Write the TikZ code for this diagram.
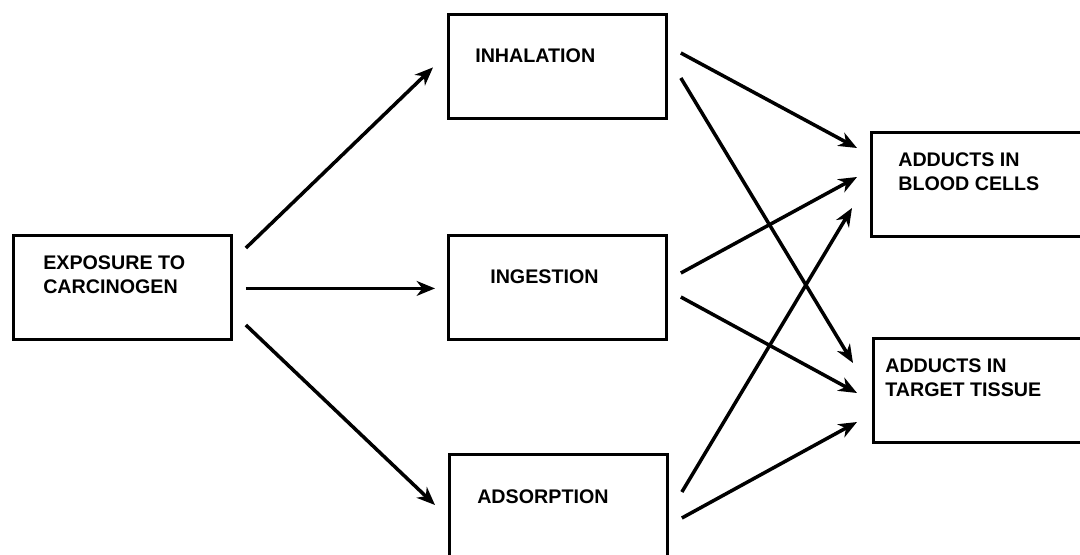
\documentclass[tikz,border=0pt]{standalone}
\usepackage{fontspec}
\setmainfont{Liberation Sans}
\usetikzlibrary{arrows.meta}

\tikzset{
	box/.style={draw, line width=2pt, anchor=north west, minimum width=5.45cm, minimum height=2.6cm, inner sep=0pt},
	lbl/.style={anchor=north west, inner sep=0pt, align=left, font=\fontsize{14}{17.5}\selectfont\bfseries},
	arr/.style={line width=2.5pt, -{Stealth[length=13pt, width=10.5pt, inset=4pt]}}
}

\begin{document}
\begin{tikzpicture}[x=0.025cm, y=-0.025cm]
	\path[use as bounding box, clip] (0,0) rectangle (1080,554);
	\node[box] (expo) at (12,234) {};
	\node[box] (inh) at (447,13) {};
	\node[box] (ing) at (447,234) {};
	\node[box, minimum height=2.9cm] (ads) at (448,453) {};
	\node[box, minimum width=5.6cm] (blood) at (870,131) {};
	\node[box, minimum width=5.6cm] (target) at (872,337) {};
	\node[lbl] (expo-t) at (43,255) {EXPOSURE TO\\CARCINOGEN};
	\node[lbl] (inh-t) at (475,48) {INHALATION};
	\node[lbl] (ing-t) at (490,269) {INGESTION};
	\node[lbl] (ads-t) at (477,489) {ADSORPTION};
	\node[lbl] (blood-t) at (898,152) {ADDUCTS IN\\BLOOD CELLS};
	\node[lbl] (target-t) at (885,358) {ADDUCTS IN\\TARGET TISSUE};
	\draw[arr] ([shift={(13,14)}]expo.north east) -- ([shift={(-14,1)}]inh.west);
	\draw[arr] ([shift={(13,1)}]expo.east) -- ([shift={(-12,1)}]ing.west);
	\draw[arr] ([shift={(13,91)}]expo.north east) -- ([shift={(-13,52)}]ads.north west);
	\draw[arr] ([shift={(13,40)}]inh.north east) -- ([shift={(-13,17)}]blood.north west);
	\draw[arr] ([shift={(13,65)}]inh.north east) -- ([shift={(-19,26)}]target.north west);
	\draw[arr] ([shift={(13,39)}]ing.north east) -- ([shift={(-13,46)}]blood.north west);
	\draw[arr] ([shift={(13,63)}]ing.north east) -- ([shift={(-15,56)}]target.north west);
	\draw[arr] ([shift={(13,39)}]ads.north east) -- ([shift={(-18,77)}]blood.north west);
	\draw[arr] ([shift={(13,65)}]ads.north east) -- ([shift={(-15,85)}]target.north west);

\end{tikzpicture}
\end{document}
